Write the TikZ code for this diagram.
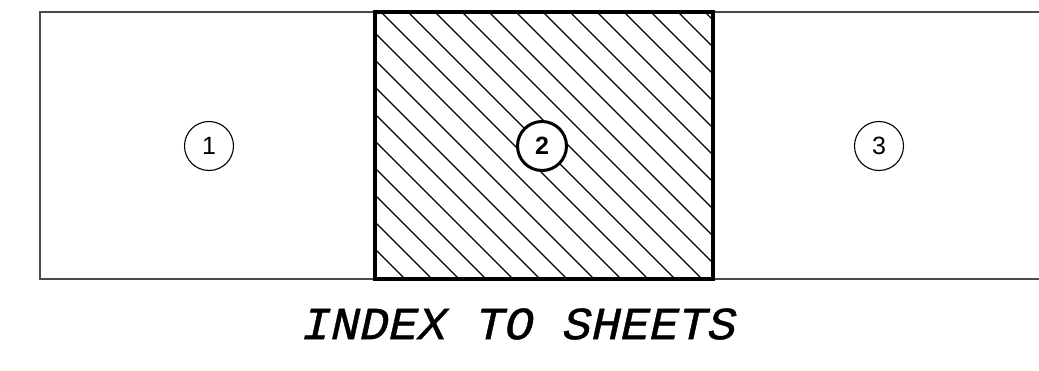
\documentclass[tikz,border=0pt]{standalone}
\usepackage{fontspec}
\setmainfont{Liberation Sans}
\newfontfamily\titlefont[FakeSlant=0.22,FakeBold=1,FakeStretch=1.05]{Liberation Mono}
\newfontfamily\numfont{Liberation Sans}
\definecolor{shink}{HTML}{000000}
\definecolor{shline}{HTML}{4A4A4A}
\tikzset{
  stripLine/.style={draw=shline, line width=1.4pt},
  keyBox/.style={draw=shink, line width=3.6pt, line cap=rect},
  hatchLine/.style={draw=shink, line width=1.1pt},
  sheetCircle/.style={circle, draw=shink, line width=1.1pt, minimum size=49pt, inner sep=0pt, font=\numfont\fontsize{25}{25}\selectfont},
  keyCircle/.style={sheetCircle, line width=3pt, font=\numfont\bfseries\fontsize{25}{25}\selectfont},
  titleText/.style={font=\titlefont\fontsize{46}{46}\selectfont, inner sep=0pt}
}
\begin{document}
\begin{tikzpicture}[x=1pt, y=-1pt]
  \useasboundingbox (0,0) rectangle (1039,370);
  % strip of sheets
  \draw[stripLine] (1039,12) -- (40,12) -- (40,279) -- (1039,279);
  % hatching of the current sheet
  \begin{scope}
    \clip (375,12) rectangle (713,279);
    \foreach \k in {-11,...,12}
      \draw[hatchLine] ({381+27*\k},12) -- ({381+27*\k+267},279);
  \end{scope}
  \draw[keyBox] (375,12) rectangle (713,279);
  % sheet numbers
  \node[sheetCircle] (sheetA) at (209,146) {1};
  \node[keyCircle, fill=white] (sheetB) at (542,146) {2};
  \node[sheetCircle] (sheetC) at (879,146) {3};
  \node[titleText] (title) at (517,324) {INDEX TO SHEETS};
\end{tikzpicture}
\end{document}
